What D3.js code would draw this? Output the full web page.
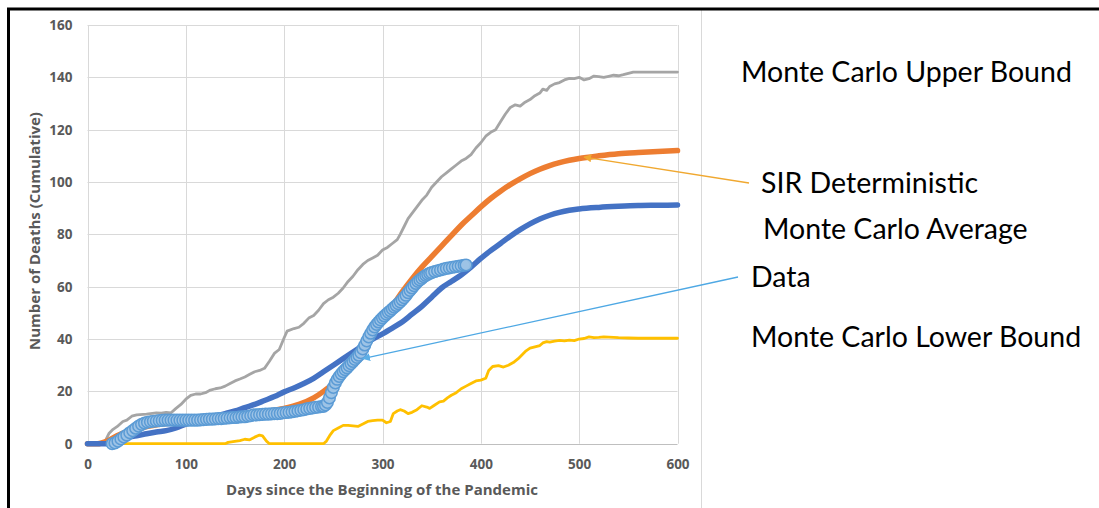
<!DOCTYPE html>
<html><head><meta charset="utf-8">
<script src="https://cdn.jsdelivr.net/npm/d3@7"></script>
<style>html,body{margin:0;padding:0;background:#fff;}svg{display:block;}</style>
</head><body>
<svg id="c" width="1099" height="508"></svg>
<script>
// ---- data (day, cumulative deaths) ----
const xTicks = [0, 100, 200, 300, 400, 500, 600];
const yTicks = [0, 20, 40, 60, 80, 100, 120, 140, 160];
const seriesNames = ["Monte Carlo Upper Bound", "SIR Deterministic", "Monte Carlo Average", "Data", "Monte Carlo Lower Bound"];

const upperBound = [[0,0],[15,0],[18,1],[22,4],[26,5.5],[30,6.5],[36,8.5],[40,9],[45,10.5],[50,11],[60,11.3],[70,11.8],[75,11.7],[80,12],[85,11.8],[90,13.5],[95,15],[100,17],[105,18.5],[110,19],[115,19],[120,19.5],[125,20.5],[130,21],[135,21.3],[140,22],[145,23],[150,24],[155,24.7],[160,25.5],[165,26.5],[170,27.5],[175,28],[180,28.8],[185,31.5],[190,34.5],[195,36],[200,40.5],[203,43],[210,44],[215,44.5],[220,46],[225,48],[230,49],[235,51],[240,53.5],[245,55],[250,56],[255,57.5],[260,59.5],[265,62],[270,64],[275,66.5],[280,68.5],[285,70],[290,71],[295,72],[300,74],[305,75],[310,76.5],[315,78],[318,80],[322,83],[326,86],[330,88],[335,90.5],[340,93],[345,95],[350,98],[355,100],[360,102],[365,103.5],[370,105],[375,106.5],[380,108],[385,109],[390,110.5],[395,113],[400,115],[405,117.5],[410,119],[415,120],[420,123],[425,126],[430,128.5],[435,129.5],[440,129],[445,130.5],[450,131.5],[455,133],[460,134],[463,135.5],[467,135],[470,136.5],[475,137.5],[480,138],[485,139],[490,139.6],[495,139.5],[500,140],[505,139],[510,139.5],[515,140.5],[520,140.3],[525,140],[530,140.4],[535,140.8],[540,140.6],[545,141],[550,141.5],[555,142],[560,142],[600,142]];

const sirDeterministic = [[0,0],[10,0],[20,1],[30,3],[40,4.5],[50,5.5],[60,6.5],[75,7.5],[100,8.5],[125,9.5],[150,10.5],[175,12],[200,13.5],[215,15],[230,17.5],[240,20],[250,23],[260,27],[270,31.5],[280,36.5],[290,42],[300,47],[310,52.5],[320,58],[330,63],[340,67.5],[350,71.5],[360,75.5],[370,79.5],[380,83.5],[390,87],[400,90.5],[410,93.7],[420,96.5],[430,99],[440,101.2],[450,103.2],[460,104.9],[470,106.3],[480,107.4],[490,108.3],[500,109],[520,110],[540,110.8],[560,111.3],[580,111.7],[600,112]];

const mcAverage = [[0,0],[20,0],[25,0.5],[30,1.5],[40,2.5],[50,3],[60,3.8],[70,4.5],[80,5],[90,6],[100,7.5],[110,8.5],[120,9.5],[130,10.5],[140,11.5],[150,12.5],[160,13.8],[170,15],[180,16.5],[190,18],[200,19.8],[210,21.3],[220,23],[230,25],[240,27.5],[250,30],[260,32.5],[270,35],[280,37.5],[290,40],[300,42],[310,44.2],[320,46.5],[330,49.5],[340,52.5],[350,56],[360,59.5],[370,62],[380,64.5],[390,67.5],[400,70.8],[410,73.8],[420,76.5],[430,79.3],[440,81.8],[450,84],[460,85.9],[470,87.3],[480,88.4],[490,89.2],[500,89.7],[520,90.3],[540,90.7],[560,91],[580,91.1],[600,91.2]];

const lowerBound = [[0,0],[140,0],[143,0.5],[148,0.8],[155,1.2],[160,1.7],[165,1.5],[170,2.5],[175,3.3],[178,3],[182,1],[185,0],[240,0],[243,1],[247,3.5],[250,5],[255,6],[260,7],[265,7],[270,6.8],[275,6.6],[280,7.5],[285,8.5],[290,8.8],[295,9],[300,9],[304,8],[308,8.5],[311,11.5],[315,12.5],[318,13],[322,12.5],[326,11.5],[330,12],[335,13],[340,14.5],[345,14],[348,13.5],[352,14.5],[358,16],[362,16.3],[366,17.5],[370,18.5],[375,19.5],[380,21],[385,22],[390,23],[395,24],[400,24.3],[405,25],[408,28],[412,29.5],[418,29.8],[423,29.3],[428,30],[433,31],[438,32.5],[442,34],[446,35.5],[450,36.5],[455,37],[460,37.5],[463,38.5],[467,39],[470,38.8],[475,39.2],[480,39.5],[485,39.3],[490,39.6],[495,39.4],[500,40],[505,40.2],[510,40.8],[515,40.5],[520,40.6],[525,40.8],[530,40.7],[540,40.5],[550,40.4],[560,40.3],[600,40.3]];

const observed = [[25,0],[28,0.3],[31,1],[34,1.8],[37,2.6],[40,3.3],[43,4.2],[46,5],[49,5.9],[52,6.7],[55,7.4],[58,7.9],[61,8.2],[64,8.4],[67,8.6],[70,8.7],[73,8.8],[76,8.9],[79,9],[82,9],[85,9],[88,9],[91,9],[94,9],[97,9],[100,9],[103,9],[106,9],[109,9],[112,9],[115,9.1],[118,9.2],[121,9.3],[124,9.4],[127,9.4],[130,9.5],[133,9.6],[136,9.6],[139,9.7],[142,9.8],[145,9.9],[148,10],[151,10],[154,10.2],[157,10.3],[160,10.3],[163,10.5],[166,10.7],[169,11],[172,11],[175,11.1],[178,11.2],[181,11.3],[184,11.3],[187,11.4],[190,11.5],[193,11.5],[196,11.6],[199,11.8],[202,11.9],[205,12],[208,12.2],[211,12.4],[214,12.6],[217,12.8],[220,13],[223,13.3],[226,13.5],[229,13.7],[232,13.9],[235,14],[238,14.2],[240,14.3],[242,14.8],[244,15.8],[246,17.5],[248,19.5],[250,21.5],[252,23.2],[254,24.6],[256,25.7],[258,26.7],[260,27.5],[262,28.3],[264,29],[266,29.8],[268,30.6],[270,31.4],[272,32.2],[274,33],[276,33.8],[278,34.8],[280,36.2],[282,37.7],[284,39.3],[286,40.8],[288,42.2],[290,43.5],[292,44.6],[294,45.6],[296,46.5],[298,47.3],[300,48.1],[302,48.8],[304,49.5],[306,50.2],[308,50.8],[310,51.5],[312,52.2],[314,52.8],[316,53.5],[318,54.2],[320,55],[322,55.8],[324,56.7],[326,57.7],[328,58.6],[330,59.5],[332,60.4],[334,61.2],[336,62],[338,62.6],[340,63.2],[342,63.8],[344,64.3],[346,64.7],[348,65.1],[350,65.4],[353,65.8],[356,66.1],[359,66.4],[362,66.7],[365,67],[368,67.2],[371,67.4],[374,67.6],[377,67.8],[380,68],[383,68.2],[385,68.3]];

// ---- layout ----
const svg = d3.select("#c");
const x = d3.scaleLinear().domain([0, 600]).range([87.5, 677.5]);
const y = d3.scaleLinear().domain([0, 160]).range([443.7, 25]);
const axisFont = "'Open Sans', 'Noto Sans', sans-serif";

// frame
svg.append("line").attr("x1", 701.5).attr("x2", 701.5).attr("y1", 10).attr("y2", 508).attr("stroke", "#d9d9d9").attr("stroke-width", 1);
svg.append("line").attr("x1", 7).attr("x2", 1099).attr("y1", 9).attr("y2", 9).attr("stroke", "#000").attr("stroke-width", 3);
svg.append("line").attr("x1", 8.5).attr("x2", 8.5).attr("y1", 8).attr("y2", 508).attr("stroke", "#000").attr("stroke-width", 3);

// gridlines
const g = svg.append("g");
g.selectAll(".hg").data(yTicks).join("line")
  .attr("x1", x(0)).attr("x2", x(600)).attr("y1", d => Math.round(y(d)) + 0.5).attr("y2", d => Math.round(y(d)) + 0.5)
  .attr("stroke", d => d === 0 ? "#bfbfbf" : "#d9d9d9").attr("stroke-width", 1);
g.selectAll(".vg").data(xTicks).join("line")
  .attr("x1", d => Math.round(x(d)) + 0.5).attr("x2", d => Math.round(x(d)) + 0.5).attr("y1", y(160)).attr("y2", y(0))
  .attr("stroke", "#d9d9d9").attr("stroke-width", 1);

// axes labels via d3 axes
const xAxis = svg.append("g").attr("transform", `translate(0,${y(0)})`)
  .call(d3.axisBottom(x).tickValues(xTicks).tickSize(0).tickPadding(16));
const yAxis = svg.append("g").attr("transform", `translate(${x(0)},0)`)
  .call(d3.axisLeft(y).tickValues(yTicks).tickSize(0).tickPadding(15));
[xAxis, yAxis].forEach(a => {
  a.select(".domain").remove();
  a.selectAll("text").attr("fill", "#595959").attr("font-family", axisFont)
    .attr("font-weight", "bold").attr("font-size", "13.5px");
});

svg.append("text").attr("x", 382).attr("y", 495).attr("text-anchor", "middle")
  .attr("font-family", axisFont).attr("font-weight", "bold").attr("font-size", "15px")
  .attr("fill", "#595959").text("Days since the Beginning of the Pandemic");
svg.append("text").attr("transform", "translate(40,231) rotate(-90)").attr("text-anchor", "middle")
  .attr("font-family", axisFont).attr("font-weight", "bold").attr("font-size", "15px")
  .attr("fill", "#595959").text("Number of Deaths (Cumulative)");

// lines
const line = d3.line().x(d => x(d[0])).y(d => y(d[1]));
const smooth = d3.line().curve(d3.curveMonotoneX).x(d => x(d[0])).y(d => y(d[1]));
const plot = svg.append("g").attr("fill", "none").attr("stroke-linejoin", "round").attr("stroke-linecap", "round");
plot.append("path").datum(upperBound).attr("d", line).attr("stroke", "#a5a5a5").attr("stroke-width", 2.8);
plot.append("path").datum(lowerBound).attr("d", line).attr("stroke", "#ffc000").attr("stroke-width", 2.8);
plot.append("path").datum(sirDeterministic).attr("d", smooth).attr("stroke", "#ed7d31").attr("stroke-width", 5.5);
plot.append("path").datum(mcAverage).attr("d", smooth).attr("stroke", "#4472c4").attr("stroke-width", 5.5);

// observed data markers
svg.append("g").selectAll("circle").data(observed).join("circle")
  .attr("cx", d => x(d[0])).attr("cy", d => y(d[1])).attr("r", 5.8)
  .attr("fill", "#9dc3e6").attr("fill-opacity", 0.9)
  .attr("stroke", "#5b9bd5").attr("stroke-width", 1.5);

// leader lines with arrowheads
const defs = svg.append("defs");
function marker(id, color) {
  defs.append("marker").attr("id", id).attr("viewBox", "0 0 10 10").attr("refX", 9).attr("refY", 5)
    .attr("markerWidth", 8).attr("markerHeight", 8).attr("markerUnits", "userSpaceOnUse").attr("orient", "auto")
    .append("path").attr("d", "M0,0 L10,5 L0,10 z").attr("fill", color);
}
marker("arrO", "#f0a830");
marker("arrB", "#5aaee6");
svg.append("line").attr("x1", 749).attr("y1", 183).attr("x2", x(505)).attr("y2", y(109.5))
  .attr("stroke", "#f0a830").attr("stroke-width", 1.3).attr("marker-end", "url(#arrO)");
svg.append("line").attr("x1", 738).attr("y1", 277).attr("x2", x(280)).attr("y2", y(32.5))
  .attr("stroke", "#4ea8e4").attr("stroke-width", 1.3).attr("marker-end", "url(#arrB)");

// series labels
const labels = [
  {t: seriesNames[0], x: 741, y: 82},
  {t: seriesNames[1], x: 761, y: 193},
  {t: seriesNames[2], x: 763, y: 239},
  {t: seriesNames[3], x: 751, y: 287},
  {t: seriesNames[4], x: 751, y: 347}
];
svg.append("g").selectAll("text").data(labels).join("text")
  .attr("x", d => d.x).attr("y", d => d.y)
  .attr("font-family", "Lato, 'Noto Sans', sans-serif").attr("font-size", "28.5px").attr("fill", "#000")
  .text(d => d.t);
</script>
</body></html>
